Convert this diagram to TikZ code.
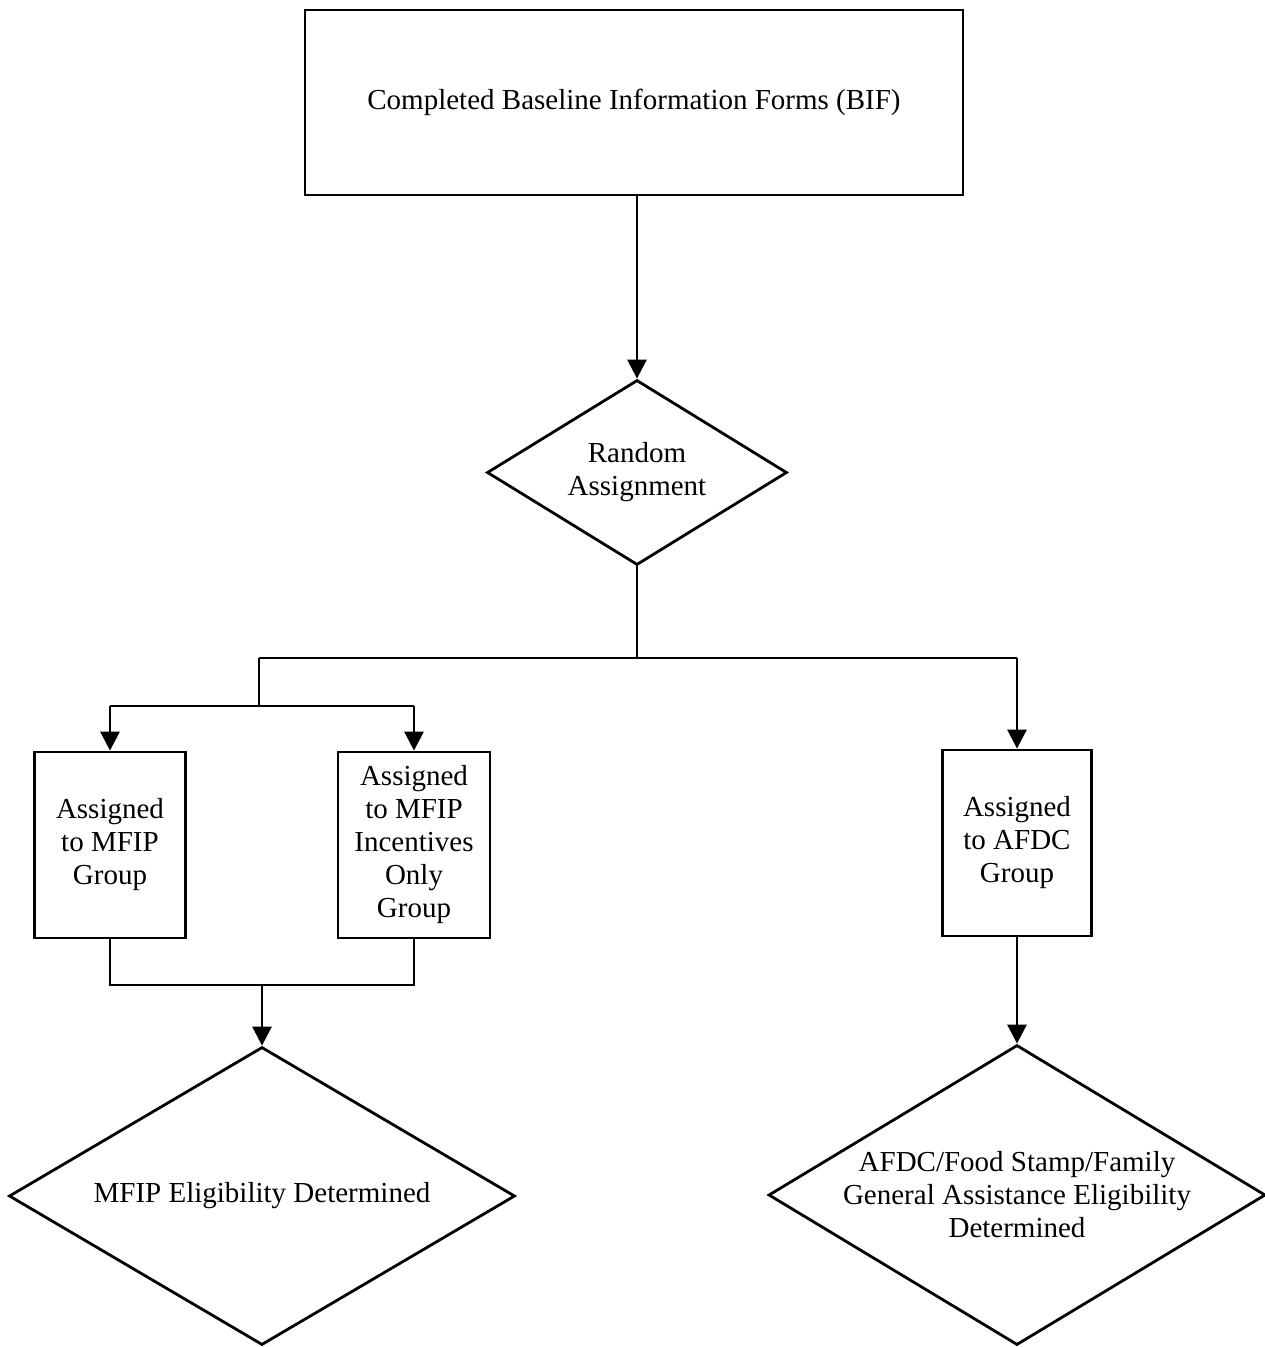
\documentclass[tikz,border=0pt]{standalone}
\usepackage{fontspec}
\setmainfont{Liberation Serif}
\usetikzlibrary{shapes.geometric,arrows.meta}
\begin{document}
\begin{tikzpicture}[x=1pt,y=-1pt,
  every node/.style={font=\fontsize{29}{33}\selectfont, align=center},
  box/.style={draw, line width=2.8pt, inner sep=0pt},
  decide/.style={draw, diamond, line width=2.8pt, inner sep=0pt},
  flow/.style={line width=2.8pt},
  arr/.style={flow, -{Triangle[width=19pt,length=19pt]}}]
\useasboundingbox (0,0) rectangle (1265,1347);

% boxes and decisions
\node[box, minimum width=658pt, minimum height=185pt] (bif) at (634,102.5)
  {Completed Baseline Information Forms (BIF)};
\node[decide, minimum width=300pt, minimum height=185pt] (ra) at (637,472.5) {};
\node at (ra) {Random\\Assignment};

\node[box, minimum width=151pt, minimum height=186pt] (mfip) at (110,845)
  {Assigned\\to MFIP\\Group};
\node[box, minimum width=152pt, minimum height=186pt] (inc) at (414,845)
  {Assigned\\to MFIP\\Incentives\\Only\\Group};
\node[box, minimum width=149pt, minimum height=186pt] (afdc) at (1017,843)
  {Assigned\\to AFDC\\Group};

\node[decide, minimum width=506pt, minimum height=298pt] (me) at (262,1196) {};
\node at (me) {MFIP Eligibility Determined};
\node[decide, minimum width=497pt, minimum height=300pt] (ae) at (1017,1195) {};
\node at (ae) {AFDC/Food Stamp/Family\\General Assistance Eligibility\\Determined};

% branch points
\coordinate (split) at (637,658);
\coordinate (splitL) at (259,658);
\coordinate (splitR) at (1017,658);
\coordinate (pair) at (259,706);
\coordinate (join) at (262,985);

% connectors
\draw[arr] (bif.south -| ra.north) -- (ra.north);
\draw[flow] (ra.south) -- (split);
\draw[flow] (splitL) -- (splitR);
\draw[flow] (splitL) -- (pair);
\draw[flow] (mfip.north |- pair) -- (inc.north |- pair);
\draw[arr] (mfip.north |- pair) -- (mfip.north);
\draw[arr] (inc.north |- pair) -- (inc.north);
\draw[arr] (splitR) -- (afdc.north);
\draw[flow] (mfip.south) |- (join) -| (inc.south);
\draw[arr] (join) -- (me.north);
\draw[arr] (afdc.south) -- (ae.north);
\end{tikzpicture}
\end{document}
